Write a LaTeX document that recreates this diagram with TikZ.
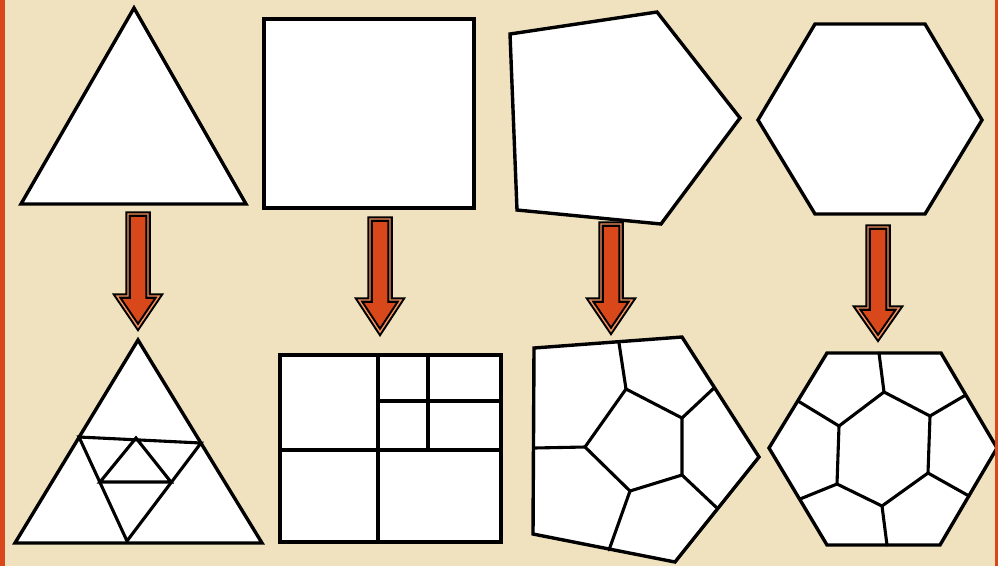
\documentclass[tikz,border=0pt]{standalone}
\definecolor{parch}{RGB}{240,226,191}
\definecolor{arrowred}{RGB}{216,72,26}
\definecolor{arrowlight}{RGB}{245,145,95}
\newcommand\bigdownarrow[4]{%
  \filldraw[fill=arrowred,draw=black,line width=5.5pt,line join=miter]
    (#1-10,#2) -- (#1+10,#2) -- (#1+10,#3) -- (#1+21,#3) -- (#1,#4) -- (#1-21,#3) -- (#1-10,#3) -- cycle;
  \draw[arrowlight,line width=1.4pt,line join=miter]
    (#1-10,#2) -- (#1+10,#2) -- (#1+10,#3) -- (#1+21,#3) -- (#1,#4) -- (#1-21,#3) -- (#1-10,#3) -- cycle;
}
\begin{document}
\begin{tikzpicture}[x=1pt,y=-1pt,
  poly/.style={fill=white,draw=black,line width=3.4pt,line join=miter},
  ln/.style={draw=black,line width=3.1pt,line cap=round}]
\fill[parch] (0,0) rectangle (998,566);
\useasboundingbox (0,0) rectangle (998,566);

% top row
\draw[poly] (134,8) -- (246,204) -- (21,204) -- cycle;
\draw[poly] (264,19) rectangle (474,208);
\draw[poly] (510,34) -- (657,12) -- (740,118) -- (661,224) -- (517,210) -- cycle;
\draw[poly] (758,120) -- (815,24) -- (925,24) -- (982,120) -- (925,214) -- (815,214) -- cycle;

% arrows
\bigdownarrow{138}{214}{296}{327}
\bigdownarrow{380}{219}{300}{332}
\bigdownarrow{611}{224}{300}{331}
\bigdownarrow{878}{227}{308}{338}

% bottom triangle
\draw[poly] (138,340) -- (262,543) -- (15,543) -- cycle;
\draw[ln] (79,437) -- (201,443) -- (127,541) -- cycle;
\draw[ln] (136,438) -- (171,482) -- (100,482) -- cycle;

% bottom square
\draw[poly] (280,355) rectangle (501,542);
\draw[ln] (378,355) -- (378,542);
\draw[ln] (280,450) -- (501,450);
\draw[ln] (428,355) -- (428,450);
\draw[ln] (378,401) -- (501,401);

% bottom pentagon
\draw[poly] (534,348) -- (682,337) -- (759,457) -- (675,562) -- (533,534) -- cycle;
\draw[ln] (626,389) -- (682,418) -- (682,475) -- (630,491) -- (585,447) -- cycle;
\draw[ln] (626,389) -- (619,343);
\draw[ln] (682,418) -- (714,388);
\draw[ln] (682,475) -- (717,508);
\draw[ln] (630,491) -- (609,550);
\draw[ln] (585,447) -- (534,448);

% bottom hexagon
\draw[poly] (827,353) -- (941,353) -- (997,448) -- (940,545) -- (827,545) -- (769,448) -- cycle;
\draw[ln] (884,392) -- (930,416) -- (928,473) -- (882,506) -- (837,484) -- (839,426) -- cycle;
\draw[ln] (884,392) -- (879,353);
\draw[ln] (930,416) -- (964,396);
\draw[ln] (928,473) -- (969,496);
\draw[ln] (882,506) -- (887,545);
\draw[ln] (837,484) -- (800,499);
\draw[ln] (839,426) -- (798,401);

% side bars
\fill[arrowred] (0,0) rectangle (5,566);
\fill[arrowred] (995,0) rectangle (998,566);
\end{tikzpicture}
\end{document}
